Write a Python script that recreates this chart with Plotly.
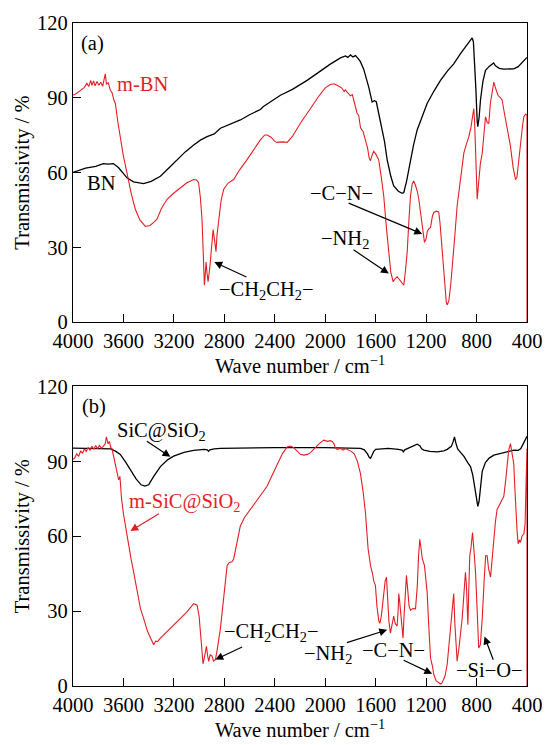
import plotly.graph_objects as go
from plotly.subplots import make_subplots

# ---------------- (a) BN / m-BN ----------------
bn_wn = [4000, 3900, 3820, 3760, 3720, 3680, 3640, 3600, 3572, 3520, 3440, 3380, 3307, 3240,
         3175, 3110, 3043, 2990, 2937, 2880, 2831, 2750, 2673, 2600, 2514, 2490, 2409, 2355,
         2260, 2144, 2050, 1960, 1879, 1840, 1820, 1800, 1780, 1760, 1740, 1721, 1695, 1670, 1655, 1628, 1610, 1595,
         1562, 1530, 1509, 1480, 1457, 1420, 1390, 1377, 1355, 1338, 1300, 1271, 1230, 1192,
         1140, 1086, 1030, 981, 930, 880, 835, 825, 815, 805, 795, 790, 780, 769, 750, 729,
         700, 680, 665, 650, 620, 584, 540, 505, 470, 440, 415, 400]
bn_T = [60.1, 61.8, 62.5, 63.6, 63.4, 63.6, 62.0, 59.8, 57.9, 56.3, 55.6, 56.5, 58.5, 61.8,
        65.2, 68.3, 71.1, 73.0, 74.4, 75.5, 77.8, 79.6, 81.1, 83.2, 85.3, 86.5, 89.0, 91.0,
        93.4, 97.0, 100.3, 103.5, 106.0, 106.8, 106.2, 107.2, 106.4, 106.9, 105.8, 104.5, 101.5, 97.5, 94.3, 88.3, 88.8, 88.4,
        81.0, 72.5, 65.2, 58.5, 54.6, 52.5, 51.7, 52.0, 56.5, 61.2, 71.0, 77.1, 83.0, 87.7,
        92.5, 97.0, 100.8, 103.6, 107.5, 110.8, 114.0, 112.5, 104.0, 93.0, 80.5, 78.4, 82.0, 89.0, 96.5, 101.0,
        102.6, 103.2, 104.0, 102.8, 101.8, 101.5, 101.5, 101.6, 102.5, 104.0, 105.4, 106.2]

mbn_wn = [4000, 3970, 3940, 3910, 3890, 3875, 3860, 3850, 3837, 3825, 3810, 3795, 3780, 3765,
          3755, 3744, 3735, 3720, 3704, 3690, 3675, 3664, 3645, 3625, 3600, 3572, 3540, 3506,
          3470, 3426, 3390, 3360, 3334, 3300, 3254, 3200, 3149, 3100, 3043, 3020, 3004, 2990,
          2977, 2966, 2958, 2950, 2945, 2938, 2929, 2915, 2900, 2889, 2878, 2866, 2858, 2845,
          2825, 2805, 2770, 2726, 2680, 2620, 2570, 2514, 2480, 2461, 2430, 2400, 2382, 2340,
          2302, 2260, 2197, 2150, 2117, 2060, 2000, 1959, 1930, 1900, 1870, 1850, 1840, 1826,
          1800, 1785, 1770, 1747, 1735, 1720, 1700, 1681, 1665, 1650, 1641, 1628, 1615, 1600,
          1585, 1576, 1555, 1536, 1515, 1496, 1480, 1461, 1445, 1429, 1405, 1390, 1377, 1365,
          1350, 1335, 1324, 1310, 1298, 1285, 1270, 1258, 1240, 1225, 1213, 1200, 1190, 1179,
          1165, 1150, 1139, 1120, 1100, 1090, 1073, 1055, 1040, 1033, 1020, 1005, 993, 975,
          954, 930, 915, 901, 880, 861, 845, 830, 822, 815, 808, 800, 795, 785, 770, 755, 745,
          735, 729, 715, 703, 690, 675, 663, 650, 630, 610, 597, 580, 560, 531, 510, 491, 480,
          470, 452, 435, 425, 410, 400, 400]
mbn_T = [91.0, 91.8, 93.0, 94.2, 95.8, 94.5, 97.0, 95.0, 96.8, 94.8, 96.5, 95.0, 96.2, 94.6,
         97.0, 99.6, 95.5, 96.0, 93.0, 92.0, 89.0, 87.7, 80.5, 74.4, 66.5, 59.9, 52.0, 45.3,
         41.0, 38.4, 38.8, 40.0, 41.3, 45.5, 49.3, 51.8, 53.9, 55.8, 57.2, 57.0, 55.9, 50.0,
         41.3, 28.0, 14.8, 20.0, 24.1, 20.0, 16.2, 22.0, 31.0, 37.1, 33.0, 28.3, 35.0, 41.3,
         49.0, 53.3, 55.8, 57.2, 61.0, 65.2, 69.0, 73.1, 75.1, 75.1, 74.2, 72.5, 72.1, 72.3,
         72.1, 74.5, 79.8, 83.5, 85.7, 90.0, 94.0, 95.3, 95.6, 94.8, 94.0, 92.5, 93.2, 92.3,
         90.8, 91.3, 88.5, 83.7, 83.0, 78.0, 76.5, 73.1, 70.0, 65.5, 64.8, 67.0, 68.5, 67.5,
         66.0, 65.2, 58.0, 50.6, 38.0, 28.1, 20.0, 16.2, 17.5, 18.2, 16.5, 15.5, 14.8, 20.0,
         28.1, 42.0, 50.6, 55.5, 56.6, 55.0, 52.5, 49.3, 42.0, 35.0, 32.0, 33.5, 36.5, 37.4,
         38.0, 42.5, 44.0, 44.5, 44.2, 40.0, 28.1, 15.0, 8.0, 6.9, 8.5, 15.0, 21.5, 33.0,
         46.6, 57.0, 63.5, 67.8, 71.5, 74.4, 78.0, 83.0, 85.7, 80.0, 65.0, 52.0, 49.3, 55.0, 63.5, 67.8, 74.0,
         79.5, 82.4, 80.0, 79.8, 88.0, 93.5, 96.3, 94.0, 91.0, 90.0, 89.0, 84.0, 78.0, 70.5, 62.0, 57.2, 58.0,
         63.0, 73.1, 79.0, 82.4, 83.5, 83.0, 0.0]

# ---------------- (b) SiC@SiO2 / m-SiC@SiO2 ----------------
sic_wn = [4000, 3900, 3800, 3730, 3700, 3660, 3625, 3580, 3546, 3500, 3460, 3430, 3400, 3360,
          3307, 3250, 3202, 3120, 3043, 2960, 2935, 2925, 2915, 2880, 2831, 2600, 2400, 2000,
          1800, 1720, 1690, 1665, 1650, 1641, 1630, 1615, 1600, 1560, 1500, 1420, 1390, 1380,
          1370, 1340, 1300, 1271, 1250, 1235, 1218, 1170, 1112, 1060, 1033, 1000, 985, 975,
          965, 950, 927, 900, 870, 848, 830, 815, 800, 790, 780, 770, 755, 730, 700, 663, 640,
          600, 560, 505, 470, 450, 430, 415, 400]
sic_T = [95.3, 95.3, 95.3, 95.2, 95.0, 94.0, 92.8, 89.5, 86.6, 83.0, 80.6, 80.1, 80.6, 84.0,
         87.9, 90.6, 92.1, 93.6, 94.4, 94.8, 94.6, 94.0, 94.6, 95.0, 95.2, 95.4, 95.5, 95.5,
         95.4, 95.2, 94.6, 93.0, 91.5, 91.2, 92.3, 94.0, 94.8, 95.0, 95.2, 94.8, 94.5, 93.8,
         94.6, 95.3, 96.2, 96.9, 96.3, 95.0, 94.5, 94.0, 93.8, 94.2, 94.8, 96.0, 98.0, 99.8,
         97.5, 95.0, 93.6, 92.0, 89.5, 87.9, 84.5, 79.0, 73.5, 72.0, 74.0, 80.0, 86.0, 89.5, 91.3, 92.5, 92.8,
         93.5, 94.0, 94.5, 94.4, 95.0, 97.0, 98.6, 100.0]

msic_wn = [4000, 3985, 3970, 3955, 3940, 3925, 3910, 3895, 3880, 3865, 3850, 3835, 3820, 3805,
           3790, 3775, 3760, 3745, 3735, 3722, 3712, 3700, 3691, 3670, 3655, 3645, 3638, 3628,
           3615, 3600, 3585, 3560, 3540, 3519, 3490, 3465, 3440, 3410, 3385, 3370, 3360, 3345,
           3330, 3307, 3280, 3250, 3202, 3150, 3100, 3043, 3016, 3000, 2990, 2978, 2969, 2960,
           2950, 2942, 2932, 2924, 2912, 2898, 2885, 2871, 2855, 2845, 2831, 2810, 2795, 2778,
           2760, 2740, 2726, 2700, 2673, 2640, 2593, 2540, 2500, 2461, 2420, 2380, 2340, 2302,
           2276, 2250, 2220, 2197, 2170, 2140, 2117, 2080, 2050, 2012, 1980, 1960, 1945, 1930,
           1920, 1906, 1880, 1860, 1840, 1800, 1770, 1745, 1721, 1700, 1681, 1660, 1641, 1625,
           1615, 1602, 1590, 1575, 1567, 1555, 1540, 1525, 1514, 1505, 1495, 1483, 1470, 1457,
           1445, 1430, 1422, 1417, 1410, 1400, 1390, 1383, 1375, 1365, 1356, 1345, 1335, 1324,
           1305, 1284, 1270, 1260, 1250, 1240, 1230, 1213, 1200, 1192, 1180, 1165, 1150, 1139,
           1120, 1100, 1085, 1073, 1050, 1033, 1015, 1001, 990, 981, 972, 960, 954, 940, 925,
           914, 900, 888, 880, 869, 862, 854, 845, 832, 820, 808, 795, 783, 770, 755, 740, 728,
           716, 705, 689, 675, 660, 650, 637, 620, 600, 584, 570, 555, 545, 531, 520, 505, 495,
           485, 478, 470, 460, 452, 440, 425, 415, 408, 400, 400]
msic_T = [90.8, 91.5, 93.0, 92.0, 94.2, 93.2, 95.0, 94.0, 95.6, 94.5, 96.0, 94.8, 96.3, 95.0,
          96.4, 95.2, 96.0, 97.0, 99.8, 97.0, 98.0, 95.5, 95.1, 90.0, 85.5, 83.5, 82.6, 84.0,
          75.0, 69.0, 64.1, 57.0, 51.0, 45.6, 37.0, 31.0, 27.1, 22.0, 19.2, 17.5, 16.5, 18.0,
          17.8, 19.2, 20.5, 22.0, 24.5, 27.0, 29.5, 33.0, 32.4, 28.0, 20.5, 13.0, 8.9, 11.0,
          14.5, 15.9, 12.0, 9.9, 12.5, 12.0, 10.0, 10.5, 15.0, 18.0, 23.1, 33.0, 41.0, 48.2,
          49.5, 49.8, 50.9, 57.5, 64.1, 67.5, 70.7, 74.5, 77.0, 80.0, 84.5, 89.0, 93.0, 95.8,
          96.1, 95.5, 94.0, 92.8, 92.5, 92.8, 93.5, 95.5, 97.0, 98.5, 98.0, 98.3, 98.0, 97.0,
          95.5, 94.8, 95.2, 94.5, 95.0, 94.2, 93.0, 90.0, 85.2, 78.0, 69.4, 55.0, 48.2, 45.0,
          42.0, 40.3, 32.0, 26.0, 25.1, 28.0, 36.0, 42.0, 43.6, 36.0, 26.0, 21.2, 25.5, 28.0,
          25.0, 24.0, 30.0, 37.0, 34.0, 28.0, 22.0, 19.2, 28.0, 40.0, 44.3, 38.0, 32.0, 30.4,
          31.0, 30.9, 40.0, 52.0, 58.8, 55.0, 51.0, 48.2, 43.0, 37.7, 25.0, 11.3, 8.0, 4.6,
          2.0, 1.3, 0.8, 1.3, 4.0, 8.6, 18.0, 27.1, 34.0, 37.0, 25.0, 12.0, 9.9, 15.0, 21.5,
          27.1, 37.0, 45.6, 40.0, 24.5, 38.0, 52.2, 55.0, 61.5, 54.0, 45.6, 30.0, 15.2, 16.5, 27.0, 42.0, 52.2,
          52.2, 47.0, 43.6, 52.0, 62.5, 66.0, 70.7, 72.5, 75.0, 76.0, 82.0, 90.0, 94.5, 97.1, 94.0, 89.0, 78.0,
          66.0, 61.5, 57.0, 58.5, 57.5, 60.0, 61.0, 65.0, 80.0, 95.1, 0.0]

BLACK = "#000000"
RED = "#e41e25"
FONT = "Liberation Serif"

fig = make_subplots(rows=2, cols=1, vertical_spacing=0.097)

fig.add_trace(go.Scatter(x=bn_wn, y=bn_T, mode="lines",
                         line=dict(color=BLACK, width=1.3)), row=1, col=1)
fig.add_trace(go.Scatter(x=mbn_wn, y=mbn_T, mode="lines",
                         line=dict(color=RED, width=1.1)), row=1, col=1)
fig.add_trace(go.Scatter(x=sic_wn, y=sic_T, mode="lines",
                         line=dict(color=BLACK, width=1.3)), row=2, col=1)
fig.add_trace(go.Scatter(x=msic_wn, y=msic_T, mode="lines",
                         line=dict(color=RED, width=1.1)), row=2, col=1)

axis_common = dict(showline=True, mirror=True, linecolor=BLACK, linewidth=1.3,
                   ticks="inside", ticklen=8, tickwidth=1.2, tickcolor=BLACK,
                   showgrid=False, zeroline=False,
                   tickfont=dict(family=FONT, size=20.5, color=BLACK))

for r in (1, 2):
    fig.update_xaxes(range=[4000, 400], tickmode="linear", tick0=400, dtick=400,
                     title=dict(text="Wave number / cm<sup>\u22121</sup>",
                                font=dict(family=FONT, size=20.5, color=BLACK), standoff=3),
                     row=r, col=1, **axis_common)
    fig.update_yaxes(range=[0, 120], tickmode="linear", tick0=0, dtick=30,
                     title=dict(text="Transmissivity / %",
                                font=dict(family=FONT, size=20.5, color=BLACK), standoff=1),
                     row=r, col=1, **axis_common)

fig.update_layout(yaxis=dict(domain=[0.5488, 1.0]), yaxis2=dict(domain=[0.0, 0.4518]))


def label(text, x, y, xref, yref, color=BLACK, xanchor="center"):
    fig.add_annotation(text=text, x=x, y=y, xref=xref, yref=yref, showarrow=False,
                       xanchor=xanchor, yanchor="middle",
                       font=dict(family=FONT, size=20.5, color=color))


def arrow(x_from, y_from, x_to, y_to, xref, yref, color=BLACK):
    fig.add_annotation(text="", x=x_to, y=y_to, ax=x_from, ay=y_from,
                       xref=xref, yref=yref, axref=xref, ayref=yref,
                       showarrow=True, arrowhead=2, arrowsize=1.3, arrowwidth=1.2,
                       arrowcolor=color)


M = "\u2212"

# panel (a)
label("(a)", 3843, 111.9, "x", "y")
label("m-BN", 3664, 95.5, "x", "y", color=RED, xanchor="left")
label("BN", 3902, 55.9, "x", "y", xanchor="left")
label(f"{M}CH<sub>2</sub>CH<sub>2</sub>{M}", 2470, 12.5, "x", "y")
arrow(2613, 17.8, 2879, 24.1, "x", "y")
label(f"{M}C{M}N{M}", 1872, 51.9, "x", "y")
arrow(1826, 48.0, 1231, 35.4, "x", "y")
label(f"{M}NH<sub>2</sub>", 1840, 33.0, "x", "y")
arrow(1787, 29.4, 1496, 19.5, "x", "y")

# panel (b)
label("(b)", 3837, 112.1, "x2", "y2")
label(f"SiC@SiO<sub>2</sub>", 3301, 102.0, "x2", "y2")
arrow(3426, 98.5, 3228, 91.8, "x2", "y2")
label(f"m-SiC@SiO<sub>2</sub>", 3109, 73.6, "x2", "y2", color=RED)
arrow(3307, 69.4, 3545, 62.1, "x2", "y2", color=RED)
label(f"{M}CH<sub>2</sub>CH<sub>2</sub>{M}", 2428, 21.5, "x2", "y2")
arrow(2647, 15.9, 2871, 10.6, "x2", "y2")
label(f"{M}NH<sub>2</sub>", 1979, 12.8, "x2", "y2")
arrow(1840, 17.2, 1509, 22.5, "x2", "y2")
label(f"{M}C{M}N{M}", 1457, 14.5, "x2", "y2")
arrow(1390, 10.6, 1152, 4.9, "x2", "y2")
label(f"{M}Si{M}O{M}", 697, 6.6, "x2", "y2")
arrow(663, 9.9, 737, 19.8, "x2", "y2")

fig.update_layout(width=555, height=745, showlegend=False,
                  margin=dict(l=73, r=28, t=22, b=53),
                  paper_bgcolor="white", plot_bgcolor="white",
                  font=dict(family=FONT, size=20.5, color=BLACK))

fig.write_html("out.html")
